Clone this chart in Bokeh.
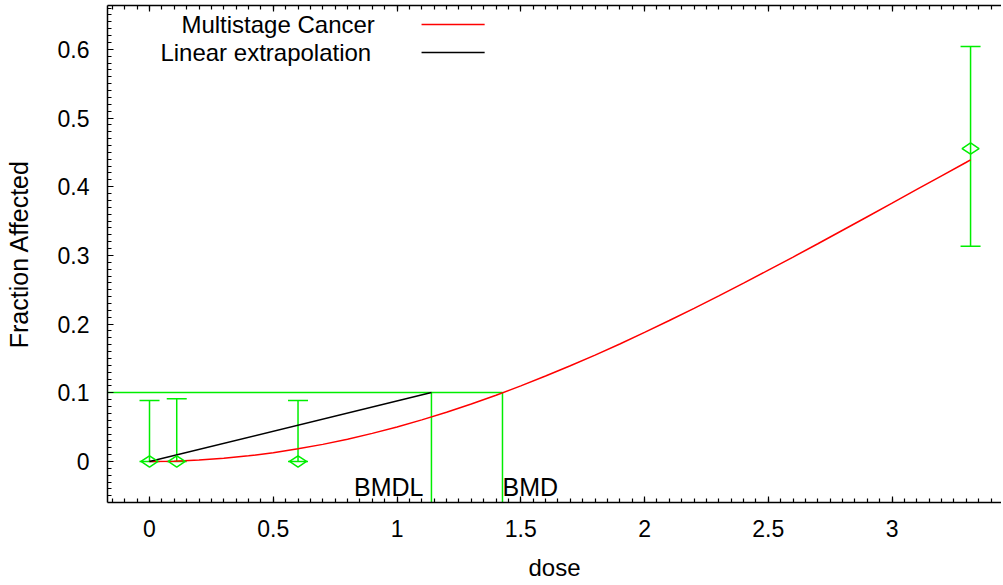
import math
from bokeh.plotting import figure
from bokeh.models import (ColumnDataSource, Whisker, TeeHead, LinearAxis, Range1d,
                          SingleIntervalTicker, CustomJSTickFormatter)
from bokeh.core.properties import value
from bokeh.embed import file_html
from bokeh.resources import INLINE

# ---- data ----
dose = [0.0, 0.11, 0.6, 3.317]
frac_observed = [0.0, 0.0, 0.0, 0.4556]
ci_lower = [0.0, 0.0, 0.0, 0.3135]
ci_upper = [0.0888, 0.0913, 0.0888, 0.604]

curve_dose = [0.0, 0.1, 0.2, 0.3, 0.4, 0.5, 0.6, 0.7, 0.8, 0.9, 1.0, 1.1, 1.2, 1.3,
              1.4, 1.5, 1.6, 1.7, 1.8, 1.9, 2.0, 2.1, 2.2, 2.3, 2.4, 2.5, 2.6, 2.7,
              2.8, 2.9, 3.0, 3.1, 3.2, 3.3, 3.317]
curve_frac = [0.0, 0.0005, 0.0021, 0.0046, 0.0082, 0.0128, 0.0184, 0.0249, 0.0325,
              0.0409, 0.0503, 0.0606, 0.0718, 0.0838, 0.0965, 0.1101, 0.1244, 0.1393,
              0.1549, 0.1711, 0.1879, 0.2052, 0.2229, 0.2411, 0.2596, 0.2785, 0.2976,
              0.3170, 0.3366, 0.3563, 0.3761, 0.3960, 0.4158, 0.4356, 0.4390]

bmr = 0.1004
bmd = 1.426
bmdl = 1.139
linear_dose = [0.0, bmdl]
linear_frac = [0.0, bmr]

legend_labels = ["Multistage Cancer", "Linear extrapolation"]
legend_colors = ["#ff0000", "#000000"]

x_lo, x_hi = -0.1697, 3.442
y_lo, y_hi = -0.0597, 0.6638

GREEN = "#00ee00"
RED = "#ff0000"
FONT = "Liberation Sans"

p = figure(width=1001, height=585, x_range=Range1d(x_lo, x_hi), y_range=Range1d(y_lo, y_hi),
           output_backend="svg", toolbar_location=None,
           x_axis_location=None, y_axis_location=None,
           min_border_left=107, min_border_right=0, min_border_top=5, min_border_bottom=83)
p.xgrid.visible = False
p.ygrid.visible = False
p.outline_line_color = None
p.background_fill_color = "white"
p.border_fill_color = "white"

fmt = CustomJSTickFormatter(code="return String(Math.round(tick*100)/100);")

def style_axis(ax):
    ax.axis_line_color = "black"
    ax.axis_line_width = 1.5
    ax.major_tick_in = 6
    ax.major_tick_out = 0
    ax.minor_tick_in = 4
    ax.minor_tick_out = 0
    ax.major_tick_line_width = 1.2
    ax.minor_tick_line_width = 1.2
    ax.major_label_text_font = FONT
    ax.major_label_text_color = "black"
    ax.axis_label_text_font = FONT
    ax.axis_label_text_font_style = "normal"
    ax.axis_label_text_color = "black"

xb = LinearAxis(ticker=SingleIntervalTicker(interval=0.5, num_minor_ticks=10), formatter=fmt,
                axis_label="dose")
style_axis(xb)
xb.major_label_text_font_size = "23px"
xb.major_label_standoff = 17
xb.axis_label_text_font_size = "24px"
xb.axis_label_standoff = 14
p.add_layout(xb, "below")

xt = LinearAxis(ticker=SingleIntervalTicker(interval=0.5, num_minor_ticks=10))
style_axis(xt)
xt.major_label_text_color = None
xt.major_label_text_font_size = "1px"
xt.major_label_standoff = 0
p.add_layout(xt, "above")

yl = LinearAxis(ticker=SingleIntervalTicker(interval=0.1, num_minor_ticks=10), formatter=fmt,
                axis_label="Fraction Affected")
style_axis(yl)
yl.major_label_text_font_size = "23px"
yl.major_label_standoff = 18
yl.axis_label_text_font_size = "25px"
yl.axis_label_standoff = 22
p.add_layout(yl, "left")

# BMR / BMD / BMDL guide lines
p.segment(x0=[x_lo], y0=[bmr], x1=[bmd], y1=[bmr], line_color=GREEN, line_width=1.5)
p.segment(x0=[bmdl, bmd], y0=[bmr, bmr], x1=[bmdl, bmd], y1=[y_lo, y_lo],
          line_color=GREEN, line_width=1.5)

# model curve and linear extrapolation
p.line(curve_dose, curve_frac, line_color=RED, line_width=1.5)
p.line(linear_dose, linear_frac, line_color="black", line_width=1.5)

# observed data with confidence bars
src = ColumnDataSource(dict(x=dose, y=frac_observed, lo=ci_lower, hi=ci_upper))
wk = Whisker(base="x", lower="lo", upper="hi", source=src, line_color=GREEN, line_width=1.5,
             upper_head=TeeHead(size=20, line_color=GREEN, line_width=1.5),
             lower_head=TeeHead(size=20, line_color=GREEN, line_width=1.5))
p.add_layout(wk)
p.scatter("x", "y", source=src, marker="diamond", size=17, angle=math.pi / 2,
          fill_color=None, line_color=GREEN, line_width=1.5)

# BMDL / BMD text
p.text(x=[bmdl], y=[y_lo], text=["BMDL"], text_align="right", text_baseline="bottom",
       x_offset=-8, y_offset=-2, text_font=value(FONT), text_font_size="25px",
       text_color="black")
p.text(x=[bmd], y=[y_lo], text=["BMD"], text_align="left", text_baseline="bottom",
       x_offset=0, y_offset=-2, text_font=value(FONT), text_font_size="25px",
       text_color="black")

# legend (text left, line sample right)
p.text(x=[0.129, 0.044], y=[0.6368, 0.596], text=legend_labels, text_align="left",
       text_baseline="middle", text_font=value(FONT), text_font_size="24px",
       text_color="black")
p.segment(x0=[1.099, 1.099], y0=[0.6361, 0.5953], x1=[1.354, 1.354], y1=[0.6361, 0.5953],
          line_color=legend_colors, line_width=1.5)

open("out.html", "w").write(file_html(p, INLINE))
